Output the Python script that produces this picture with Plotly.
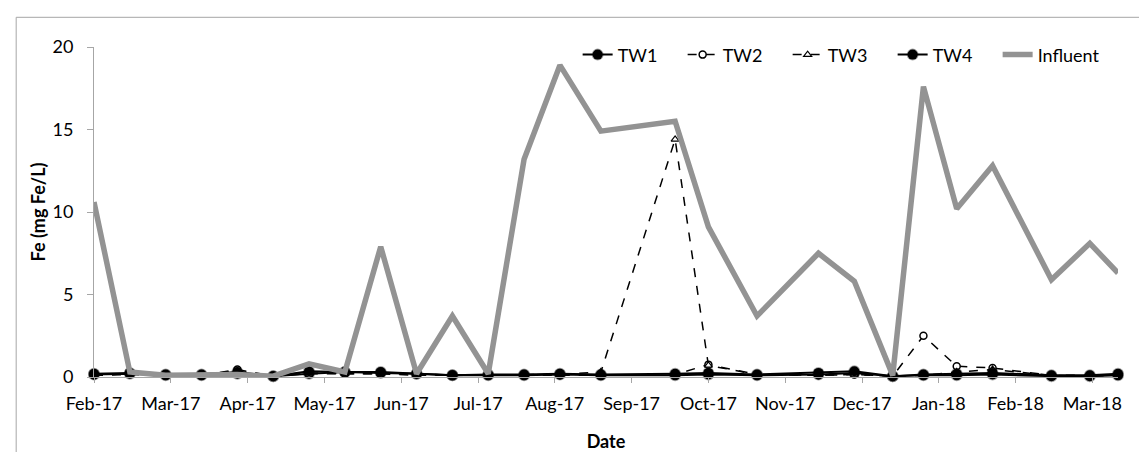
"""
Fe concentration in treatment wetlands vs influent.
"""

import plotly.graph_objects as go

# sampling dates (shared by all series)
dates = [
    "2017-02-14", "2017-02-28", "2017-03-14", "2017-03-28", "2017-04-11",
    "2017-04-25", "2017-05-09", "2017-05-23", "2017-06-06", "2017-06-20",
    "2017-07-04", "2017-07-18", "2017-08-01", "2017-08-15", "2017-08-31",
    "2017-09-29", "2017-10-12", "2017-10-31", "2017-11-24", "2017-12-08",
    "2017-12-23", "2018-01-04", "2018-01-17", "2018-01-31", "2018-02-23",
    "2018-03-10", "2018-03-21",
]

tw1 = [0.15, 0.2, 0.1, 0.1, 0.2, 0.05, 0.2, 0.3, 0.25, 0.2, 0.1, 0.1, 0.1, 0.15,
       0.1, 0.1, 0.15, 0.1, 0.15, 0.25, 0.05, 0.1, 0.1, 0.15, 0.05, 0.05, 0.1]
tw2 = [0.1, 0.2, 0.1, 0.1, 0.45, 0.05, 0.2, 0.2, 0.2, 0.2, 0.1, 0.1, 0.1, 0.1,
       0.1, 0.15, 0.75, 0.15, 0.1, 0.15, 0.05, 2.5, 0.65, 0.55, 0.1, 0.1, 0.1]
tw3 = [0.1, 0.15, 0.1, 0.15, 0.35, 0.05, 0.25, 0.2, 0.2, 0.1, 0.1, 0.1, 0.15, 0.15,
       0.3, 14.4, 0.7, 0.15, 0.1, 0.15, 0.05, 0.1, 0.3, 0.45, 0.1, 0.05, 0.1]
tw4 = [0.2, 0.25, 0.15, 0.15, 0.3, 0.05, 0.35, 0.3, 0.3, 0.2, 0.1, 0.15, 0.15, 0.2,
       0.15, 0.2, 0.25, 0.15, 0.25, 0.35, 0.05, 0.15, 0.2, 0.25, 0.1, 0.1, 0.2]
influent = [10.6, 0.3, 0.1, 0.1, 0.15, 0.05, 0.8, 0.3, 7.9, 0.2, 3.7, 0.2, 13.2, 18.9,
            14.9, 15.5, 9.1, 3.7, 7.5, 5.8, 0.1, 17.6, 10.2, 12.8, 5.9, 8.1, 6.3]

# axis ticks every 30 days from the first sample (Excel style)
tick_dates = [
    "2017-02-14", "2017-03-16", "2017-04-15", "2017-05-15", "2017-06-14",
    "2017-07-14", "2017-08-13", "2017-09-12", "2017-10-12", "2017-11-11",
    "2017-12-11", "2018-01-10", "2018-02-09", "2018-03-11",
]
tick_labels = ["Feb-17", "Mar-17", "Apr-17", "May-17", "Jun-17", "Jul-17", "Aug-17",
               "Sep-17", "Oct-17", "Nov-17", "Dec-17", "Jan-18", "Feb-18", "Mar-18"]

FONT = "Lato, Calibri, sans-serif"
SHADOW = "rgba(0,0,0,0.35)"  # soft edge, mimics the Excel marker shadow

fig = go.Figure()
fig.add_trace(go.Scatter(
    x=dates, y=tw1, name="TW1", mode="lines+markers",
    line=dict(color="black", width=2),
    marker=dict(symbol="circle", size=10, color="black", line=dict(color=SHADOW, width=2)),
    cliponaxis=False,
))
fig.add_trace(go.Scatter(
    x=dates, y=tw2, name="TW2", mode="lines+markers",
    line=dict(color="black", width=1.5, dash="dash"),
    marker=dict(symbol="circle", size=7, color="white", line=dict(color="black", width=1.5)),
    cliponaxis=False,
))
fig.add_trace(go.Scatter(
    x=dates, y=tw3, name="TW3", mode="lines+markers",
    line=dict(color="black", width=1.5, dash="dash"),
    marker=dict(symbol="triangle-up", size=7, color="white", line=dict(color="black", width=1.2)),
    cliponaxis=False,
))
fig.add_trace(go.Scatter(
    x=dates, y=tw4, name="TW4", mode="lines+markers",
    line=dict(color="black", width=2),
    marker=dict(symbol="circle", size=10, color="black", line=dict(color=SHADOW, width=2)),
    cliponaxis=False,
))
fig.add_trace(go.Scatter(
    x=dates, y=influent, name="Influent", mode="lines",
    line=dict(color="#939393", width=5.5),
    cliponaxis=False,
))

fig.update_layout(
    width=1147, height=452,
    margin=dict(l=86, r=37, t=39, b=80),
    paper_bgcolor="white", plot_bgcolor="white",
    font=dict(family=FONT, size=18, color="black"),
    showlegend=True,
    legend=dict(
        orientation="h",
        x=0.985, xanchor="right",
        y=0.976, yanchor="middle",
        bgcolor="rgba(0,0,0,0)",
        font=dict(size=18),
        itemwidth=30,
        entrywidth=60,
        tracegroupgap=0,
    ),
    xaxis=dict(
        range=[dates[0], dates[-1]],
        tickvals=tick_dates, ticktext=tick_labels,
        showgrid=False, zeroline=False,
        showline=True, linecolor="#a6a6a6", linewidth=1,
        ticks="outside", ticklen=5, tickcolor="#a6a6a6",
        ticklabelstandoff=5,
        title=dict(text="<b>Date</b>", standoff=22, font=dict(size=18)),
    ),
    yaxis=dict(
        range=[0, 20], dtick=5,
        showgrid=False, zeroline=False,
        showline=True, linecolor="#a6a6a6", linewidth=1,
        ticks="outside", ticklen=6, tickcolor="#a6a6a6",
        ticklabelstandoff=10,
        title=dict(text="<b>Fe (mg Fe/L)</b>", standoff=2, font=dict(size=18)),
    ),
    shapes=[dict(
        type="rect", xref="paper", yref="paper",
        x0=-0.076, x1=1.2, y0=-0.5, y1=1.09,
        line=dict(color="#a6a6a6", width=1), fillcolor="rgba(0,0,0,0)", layer="below",
    )],
)

fig.write_html("out.html")
